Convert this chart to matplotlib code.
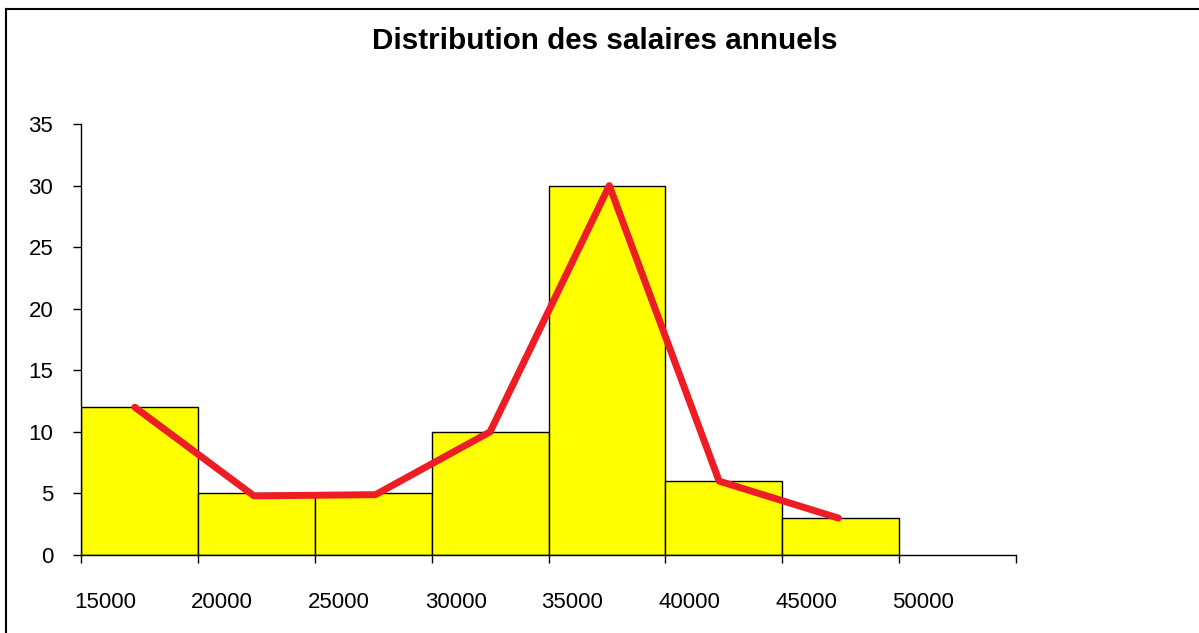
import matplotlib
matplotlib.use("Agg")
import matplotlib.pyplot as plt
from matplotlib.lines import Line2D
import matplotlib.transforms as mtransforms

# Data
bin_edges = [15000, 20000, 25000, 30000, 35000, 40000, 45000, 50000]
counts = [12, 5, 5, 10, 30, 6, 3]
poly_x = [17300, 22400, 27600, 32500, 37600, 42300, 47400]
poly_y = [12, 4.8, 4.9, 10, 30, 6, 3]
x_ticks = [15000, 20000, 25000, 30000, 35000, 40000, 45000, 50000, 55000]
x_tick_labels = ["15000", "20000", "25000", "30000", "35000", "40000", "45000", "50000", ""]
y_ticks = [0, 5, 10, 15, 20, 25, 30, 35]
title = "Distribution des salaires annuels"

plt.rcParams['font.family'] = ['Liberation Sans', 'DejaVu Sans']

W, H = 1199, 633
fig = plt.figure(figsize=(W / 100, H / 100), dpi=100)
ax = fig.add_axes([81 / W, 1 - 555 / H, (1016 - 81) / W, (555 - 124) / H])

lefts = bin_edges[:-1]
widths = [b - a for a, b in zip(bin_edges[:-1], bin_edges[1:])]
ax.bar(lefts, counts, width=widths, align='edge', color='#FFFF00',
       edgecolor='black', linewidth=1.0, zorder=2)
ax.plot(poly_x, poly_y, color='#EE1C25', linewidth=5, solid_capstyle='round',
        solid_joinstyle='round', zorder=3)

ax.set_xlim(15000, 55000)
ax.set_ylim(0, 35)
ax.set_xticks(x_ticks)
ax.set_xticklabels(x_tick_labels)
ax.set_yticks(y_ticks)
for s in ['top', 'right']:
    ax.spines[s].set_visible(False)
for s in ['left', 'bottom']:
    ax.spines[s].set_linewidth(1.0)
ax.tick_params(axis='x', direction='out', length=6, width=1, pad=21, labelsize=16)
ax.tick_params(axis='y', direction='out', length=6, width=1, pad=14, labelsize=16)

offset = mtransforms.ScaledTranslation(24 / 100, 0, fig.dpi_scale_trans)
for lbl in ax.get_xticklabels():
    lbl.set_transform(lbl.get_transform() + offset)

fig.text(605 / W, 1 - 41 / H, title, ha='center', va='center',
         fontsize=21.3, fontweight='bold')

# figure border (left and top)
fig.add_artist(Line2D([6 / W, 6 / W], [0, 1 - 9 / H], transform=fig.transFigure,
                      color='black', linewidth=1.5))
fig.add_artist(Line2D([6 / W, 1], [1 - 9 / H, 1 - 9 / H], transform=fig.transFigure,
                      color='black', linewidth=1.5))

fig.savefig("out.png", dpi=100)
